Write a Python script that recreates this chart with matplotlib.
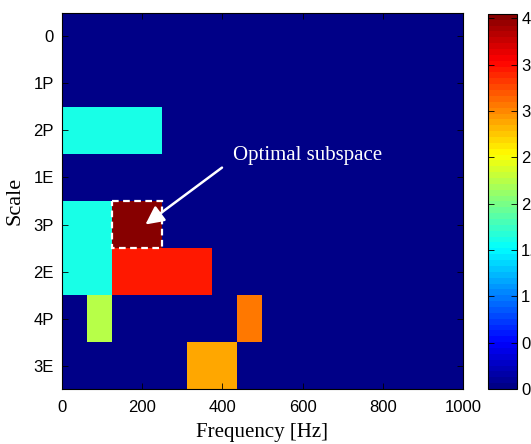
import numpy as np
import matplotlib.pyplot as plt
from matplotlib.colors import ListedColormap

# scale levels, top to bottom
scales = ['0', '1P', '2P', '1E', '3P', '2E', '4P', '3E']

# tiles of the time-frequency plane: (row, f_start [Hz], f_end [Hz], value)
tile_rows = [2, 4, 5, 4, 5, 6, 6, 7]
tile_f0 = [0, 0, 0, 125, 125, 62.5, 437.5, 312.5]
tile_f1 = [250, 125, 125, 250, 375, 125, 500, 437.5]
tile_vals = [1.6, 1.6, 1.6, 4.05, 3.48, 2.22, 3.04, 2.9]

f_max = 1000
df = 62.5
vmax = 4.05

# fill a regular grid from the tiles
f_edges = np.arange(0, f_max + df, df)
row_edges = np.arange(len(scales) + 1) - 0.5
grid = np.zeros((len(scales), len(f_edges) - 1))
for r, a, b, v in zip(tile_rows, tile_f0, tile_f1, tile_vals):
    grid[r, int(round(a / df)):int(round(b / df))] = v

# 64-level jet as in MATLAB
s = (np.arange(64) + 0.5) / 64
jet64 = ListedColormap(np.column_stack([
    np.clip(1.5 - np.abs(4 * s - 3), 0, 1),
    np.clip(1.5 - np.abs(4 * s - 2), 0, 1),
    np.clip(1.5 - np.abs(4 * s - 1), 0, 1),
]))

fig = plt.figure(figsize=(5.31, 4.44), dpi=100)
ax = fig.add_axes([0.1168, 0.1238, 0.755, 0.847])
cax = fig.add_axes([0.919, 0.1238, 0.0546, 0.845])

mesh = ax.pcolormesh(f_edges, row_edges, grid, cmap=jet64, vmin=0, vmax=vmax)
ax.set_xlim(0, f_max)
ax.set_ylim(len(scales) - 0.5, -0.5)

# optimal subspace marker
ax.add_patch(plt.Rectangle((125, 3.5), 125, 1, fill=False, edgecolor='white',
                           linestyle=(0, (3, 2)), linewidth=1.6))
ax.text(426, 2.53, 'Optimal subspace', color='white', fontsize=15,
        family='Liberation Serif', va='center', ha='left')
ax.annotate('', xy=(208, 4.0), xytext=(399, 2.79),
            arrowprops=dict(arrowstyle='-|>,head_length=1.1,head_width=0.55',
                            color='white', lw=1.8, shrinkA=0, shrinkB=0))

ax.set_yticks(range(len(scales)))
ax.set_yticklabels(scales)
ax.set_xticks(np.arange(0, 1001, 200))
ax.tick_params(direction='in', top=True, right=True, labelsize=12,
               length=4, width=0.6)
ax.tick_params(axis='x', pad=8)
ax.tick_params(axis='y', pad=6)
for lab in ax.get_xticklabels() + ax.get_yticklabels():
    lab.set_family('Liberation Sans')
ax.set_xlabel('Frequency [Hz]', fontsize=15, family='Liberation Serif',
              labelpad=6)
ax.set_ylabel('Scale', fontsize=16, family='Liberation Serif', labelpad=6)

cb = fig.colorbar(mesh, cax=cax)
cb.set_ticks(np.arange(0, 4.01, 0.5))
cb.set_ticklabels(['0', '0.5', '1', '1.5', '2', '2.5', '3', '3.5', '4'])
cax.tick_params(direction='in', left=True, right=True, labelsize=12,
                length=4, width=0.6, pad=3)
for lab in cax.get_yticklabels():
    lab.set_family('Liberation Sans')

fig.savefig('out.png', dpi=100)
